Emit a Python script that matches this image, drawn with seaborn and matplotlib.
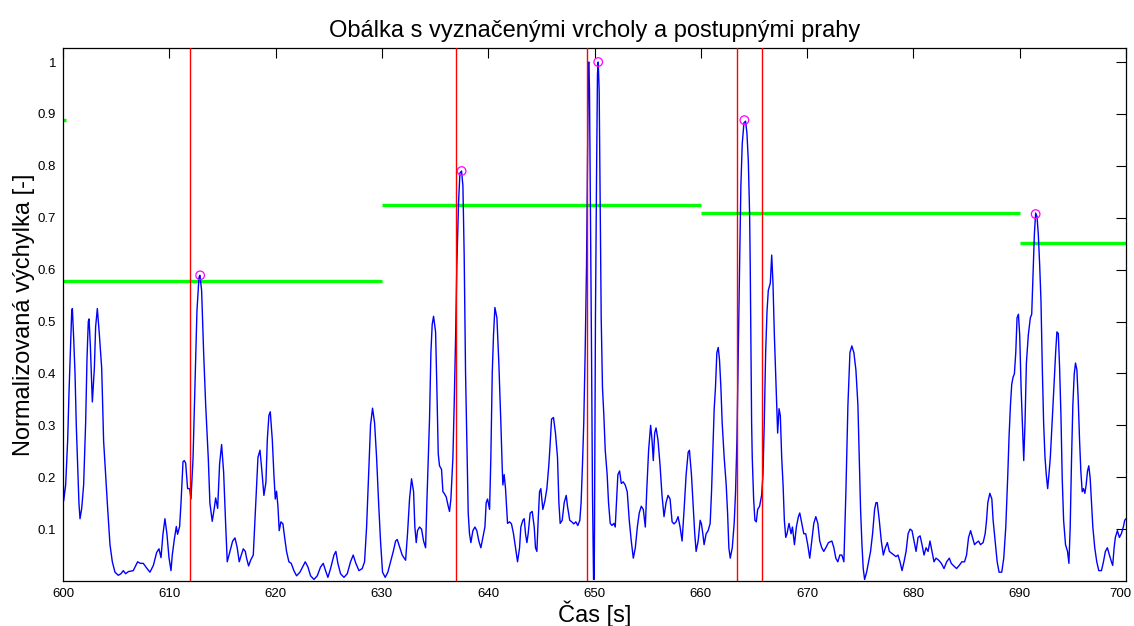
import matplotlib
matplotlib.use("Agg")
import matplotlib.pyplot as plt
import matplotlib.transforms as mtransforms
import numpy as np
import pandas as pd
import seaborn as sns

# ---------------- data ----------------
time_s = [
    600.00, 600.06, 600.25, 600.44, 600.56, 600.69, 600.82, 600.88, 601.00, 601.13,
    601.25, 601.38, 601.50, 601.60, 601.76, 601.94, 602.13, 602.26, 602.38, 602.45,
    602.57, 602.76, 602.95, 603.07, 603.23, 603.42, 603.64, 603.82, 604.01, 604.20,
    604.42, 604.64, 604.89, 605.20, 605.45, 605.67, 605.89, 606.14, 606.61, 607.02,
    607.27, 607.55, 607.87, 608.18, 608.50, 608.81, 609.03, 609.22, 609.40, 609.59,
    609.78, 609.97, 610.16, 610.28, 610.47, 610.66, 610.78, 610.97, 611.10, 611.29,
    611.41, 611.54, 611.72, 611.91, 612.04, 612.23, 612.41, 612.60, 612.79, 612.88,
    613.04, 613.23, 613.42, 613.67, 613.82, 614.04, 614.23, 614.36, 614.55, 614.73,
    614.92, 615.11, 615.30, 615.45, 615.71, 615.96, 616.18, 616.39, 616.58, 616.77,
    616.96, 617.15, 617.27, 617.46, 617.65, 617.90, 618.09, 618.21, 618.34, 618.53,
    618.71, 618.90, 619.09, 619.22, 619.37, 619.50, 619.69, 619.84, 619.97, 620.09,
    620.22, 620.34, 620.50, 620.69, 620.85, 621.03, 621.25, 621.47, 621.72, 621.97,
    622.29, 622.54, 622.79, 623.04, 623.29, 623.61, 623.92, 624.23, 624.48, 624.70,
    624.92, 625.17, 625.49, 625.67, 625.86, 626.11, 626.43, 626.74, 627.05, 627.30,
    627.55, 627.84, 628.15, 628.37, 628.56, 628.75, 628.93, 629.12, 629.31, 629.50,
    629.69, 629.87, 630.06, 630.31, 630.56, 630.82, 631.07, 631.29, 631.44, 631.69,
    631.91, 632.23, 632.41, 632.60, 632.79, 632.98, 633.10, 633.23, 633.35, 633.54,
    633.73, 633.92, 634.11, 634.23, 634.36, 634.48, 634.61, 634.73, 634.86, 635.05,
    635.17, 635.30, 635.42, 635.61, 635.74, 635.86, 636.05, 636.24, 636.36, 636.49,
    636.68, 636.80, 636.93, 637.05, 637.21, 637.34, 637.49, 637.62, 637.74, 637.87,
    637.99, 638.12, 638.24, 638.37, 638.56, 638.75, 638.93, 639.12, 639.31, 639.50,
    639.69, 639.81, 639.94, 640.13, 640.25, 640.38, 640.50, 640.63, 640.82, 641.00,
    641.19, 641.32, 641.38, 641.50, 641.63, 641.82, 642.01, 642.19, 642.38, 642.57,
    642.76, 642.95, 643.07, 643.26, 643.39, 643.51, 643.64, 643.76, 643.95, 644.14,
    644.33, 644.45, 644.58, 644.70, 644.83, 644.95, 645.14, 645.33, 645.52, 645.71,
    645.83, 645.96, 646.14, 646.33, 646.52, 646.65, 646.77, 646.96, 647.15, 647.34,
    647.46, 647.67, 647.86, 648.05, 648.24, 648.43, 648.62, 648.74, 648.87, 648.99,
    649.12, 649.25, 649.34, 649.43, 649.47, 649.53, 649.62, 649.72, 649.81, 649.91,
    649.97, 650.00, 650.09, 650.19, 650.28, 650.35, 650.44, 650.53, 650.63, 650.75,
    650.88, 651.01, 651.19, 651.32, 651.48, 651.64, 651.82, 651.95, 652.08, 652.20,
    652.36, 652.52, 652.70, 652.89, 653.08, 653.27, 653.46, 653.65, 653.84, 654.03,
    654.21, 654.40, 654.59, 654.78, 654.91, 655.09, 655.28, 655.41, 655.53, 655.66,
    655.79, 655.97, 656.16, 656.35, 656.54, 656.73, 656.92, 657.11, 657.30, 657.48,
    657.67, 657.86, 658.05, 658.24, 658.43, 658.62, 658.81, 658.93, 659.12, 659.25,
    659.43, 659.56, 659.75, 659.94, 660.06, 660.19, 660.31, 660.50, 660.69, 660.88,
    661.01, 661.13, 661.26, 661.38, 661.51, 661.64, 661.76, 661.89, 662.01, 662.20,
    662.39, 662.52, 662.64, 662.77, 662.96, 663.14, 663.27, 663.40, 663.52, 663.65,
    663.77, 663.90, 664.06, 664.21, 664.34, 664.47, 664.59, 664.65, 664.72, 664.78,
    664.84, 664.97, 665.09, 665.22, 665.35, 665.53, 665.72, 665.85, 665.97, 666.10,
    666.23, 666.35, 666.54, 666.67, 666.79, 666.92, 667.04, 667.17, 667.23, 667.36,
    667.48, 667.61, 667.74, 667.86, 667.99, 668.11, 668.30, 668.49, 668.62, 668.81,
    668.99, 669.18, 669.31, 669.50, 669.69, 669.87, 670.06, 670.25, 670.44, 670.63,
    670.82, 671.01, 671.19, 671.38, 671.57, 671.76, 672.01, 672.33, 672.52, 672.70,
    672.89, 673.08, 673.27, 673.46, 673.65, 673.84, 674.03, 674.21, 674.40, 674.59,
    674.78, 674.91, 675.03, 675.16, 675.28, 675.41, 675.60, 675.79, 675.97, 676.16,
    676.35, 676.48, 676.60, 676.79, 676.98, 677.17, 677.36, 677.55, 677.74, 677.92,
    678.18, 678.36, 678.55, 678.74, 678.93, 679.12, 679.31, 679.50, 679.69, 679.87,
    680.06, 680.25, 680.44, 680.63, 680.81, 681.00, 681.19, 681.38, 681.56, 681.75,
    681.94, 682.13, 682.38, 682.63, 682.88, 683.13, 683.38, 683.56, 683.75, 684.06,
    684.31, 684.56, 684.81, 685.00, 685.19, 685.38, 685.56, 685.75, 685.94, 686.13,
    686.31, 686.56, 686.75, 686.88, 687.00, 687.19, 687.38, 687.50, 687.69, 687.88,
    688.06, 688.31, 688.50, 688.69, 688.88, 689.00, 689.13, 689.25, 689.38, 689.50,
    689.63, 689.75, 689.88, 690.00, 690.13, 690.25, 690.38, 690.50, 690.63, 690.81,
    691.00, 691.13, 691.25, 691.38, 691.50, 691.63, 691.75, 691.88, 692.00, 692.13,
    692.25, 692.38, 692.50, 692.63, 692.75, 692.88, 693.00, 693.13, 693.25, 693.38,
    693.50, 693.63, 693.75, 693.88, 694.00, 694.13, 694.31, 694.50, 694.63, 694.75,
    694.88, 695.00, 695.13, 695.25, 695.38, 695.50, 695.63, 695.75, 695.88, 696.00,
    696.13, 696.25, 696.38, 696.50, 696.63, 696.75, 696.88, 697.06, 697.25, 697.44,
    697.69, 697.88, 698.06, 698.25, 698.44, 698.63, 698.75, 698.88, 699.00, 699.19,
    699.38, 699.56, 699.75, 699.88, 700.00,
]
envelope = [
    0.225, 0.154, 0.185, 0.272, 0.360, 0.440, 0.520, 0.525, 0.470, 0.400,
    0.300, 0.225, 0.150, 0.120, 0.140, 0.185, 0.305, 0.430, 0.500, 0.505,
    0.455, 0.345, 0.410, 0.490, 0.525, 0.475, 0.410, 0.270, 0.205, 0.140,
    0.070, 0.037, 0.017, 0.011, 0.014, 0.020, 0.014, 0.018, 0.020, 0.037,
    0.034, 0.034, 0.025, 0.017, 0.030, 0.055, 0.062, 0.045, 0.090, 0.120,
    0.090, 0.045, 0.020, 0.050, 0.080, 0.105, 0.090, 0.105, 0.150, 0.230,
    0.232, 0.227, 0.178, 0.178, 0.158, 0.235, 0.370, 0.520, 0.585, 0.589,
    0.560, 0.440, 0.340, 0.235, 0.150, 0.115, 0.140, 0.160, 0.140, 0.225,
    0.263, 0.210, 0.110, 0.037, 0.057, 0.077, 0.083, 0.064, 0.037, 0.050,
    0.062, 0.057, 0.044, 0.029, 0.040, 0.050, 0.131, 0.185, 0.238, 0.252,
    0.212, 0.165, 0.190, 0.272, 0.319, 0.326, 0.272, 0.205, 0.158, 0.173,
    0.144, 0.097, 0.114, 0.110, 0.084, 0.057, 0.037, 0.034, 0.020, 0.010,
    0.017, 0.027, 0.037, 0.027, 0.010, 0.003, 0.010, 0.027, 0.034, 0.020,
    0.007, 0.024, 0.050, 0.057, 0.034, 0.014, 0.007, 0.014, 0.037, 0.050,
    0.034, 0.020, 0.024, 0.037, 0.104, 0.205, 0.300, 0.333, 0.305, 0.238,
    0.151, 0.077, 0.017, 0.007, 0.017, 0.037, 0.057, 0.077, 0.080, 0.064,
    0.050, 0.040, 0.091, 0.158, 0.197, 0.172, 0.104, 0.074, 0.097, 0.104,
    0.100, 0.077, 0.064, 0.151, 0.232, 0.312, 0.440, 0.494, 0.510, 0.480,
    0.373, 0.245, 0.222, 0.215, 0.172, 0.169, 0.162, 0.144, 0.134, 0.158,
    0.238, 0.339, 0.466, 0.608, 0.729, 0.786, 0.790, 0.762, 0.628, 0.400,
    0.272, 0.131, 0.091, 0.074, 0.097, 0.104, 0.097, 0.077, 0.064, 0.084,
    0.104, 0.151, 0.158, 0.138, 0.238, 0.400, 0.474, 0.527, 0.507, 0.420,
    0.305, 0.218, 0.185, 0.205, 0.178, 0.111, 0.114, 0.110, 0.091, 0.064,
    0.037, 0.064, 0.104, 0.117, 0.120, 0.091, 0.074, 0.091, 0.131, 0.134,
    0.104, 0.064, 0.057, 0.117, 0.172, 0.178, 0.138, 0.154, 0.178, 0.225,
    0.265, 0.312, 0.315, 0.285, 0.238, 0.151, 0.111, 0.117, 0.151, 0.165,
    0.144, 0.117, 0.114, 0.110, 0.114, 0.107, 0.117, 0.151, 0.225, 0.305,
    0.440, 0.608, 0.810, 0.997, 1.000, 0.944, 0.709, 0.440, 0.171, 0.003,
    0.003, 0.104, 0.507, 0.776, 0.977, 1.000, 0.944, 0.742, 0.507, 0.373,
    0.319, 0.252, 0.205, 0.151, 0.111, 0.107, 0.111, 0.104, 0.158, 0.205,
    0.212, 0.188, 0.191, 0.185, 0.172, 0.117, 0.077, 0.044, 0.064, 0.104,
    0.131, 0.144, 0.138, 0.104, 0.172, 0.252, 0.300, 0.272, 0.232, 0.285,
    0.295, 0.272, 0.225, 0.165, 0.124, 0.151, 0.165, 0.158, 0.114, 0.110,
    0.114, 0.124, 0.104, 0.077, 0.138, 0.205, 0.248, 0.252, 0.205, 0.158,
    0.091, 0.057, 0.077, 0.117, 0.110, 0.091, 0.070, 0.091, 0.097, 0.111,
    0.172, 0.252, 0.332, 0.373, 0.440, 0.450, 0.426, 0.373, 0.305, 0.238,
    0.185, 0.131, 0.064, 0.044, 0.064, 0.111, 0.172, 0.272, 0.440, 0.608,
    0.762, 0.843, 0.883, 0.886, 0.863, 0.809, 0.709, 0.608, 0.440, 0.305,
    0.238, 0.158, 0.117, 0.114, 0.138, 0.144, 0.165, 0.205, 0.305, 0.440,
    0.520, 0.560, 0.574, 0.628, 0.574, 0.474, 0.400, 0.319, 0.285, 0.332,
    0.319, 0.238, 0.185, 0.117, 0.084, 0.091, 0.111, 0.091, 0.104, 0.070,
    0.104, 0.124, 0.131, 0.111, 0.091, 0.091, 0.070, 0.044, 0.077, 0.111,
    0.124, 0.111, 0.077, 0.064, 0.057, 0.064, 0.074, 0.077, 0.064, 0.044,
    0.037, 0.050, 0.050, 0.037, 0.172, 0.339, 0.440, 0.453, 0.440, 0.407,
    0.339, 0.238, 0.138, 0.070, 0.024, 0.003, 0.017, 0.037, 0.057, 0.091,
    0.138, 0.151, 0.151, 0.117, 0.077, 0.050, 0.064, 0.074, 0.057, 0.054,
    0.050, 0.047, 0.050, 0.037, 0.020, 0.037, 0.057, 0.091, 0.100, 0.097,
    0.077, 0.057, 0.084, 0.087, 0.070, 0.050, 0.064, 0.057, 0.077, 0.057,
    0.037, 0.044, 0.040, 0.034, 0.024, 0.037, 0.044, 0.034, 0.030, 0.024,
    0.030, 0.037, 0.037, 0.050, 0.084, 0.097, 0.084, 0.070, 0.074, 0.077,
    0.070, 0.074, 0.091, 0.117, 0.151, 0.169, 0.158, 0.117, 0.077, 0.037,
    0.017, 0.017, 0.044, 0.104, 0.205, 0.279, 0.339, 0.379, 0.393, 0.399,
    0.440, 0.507, 0.514, 0.474, 0.373, 0.305, 0.232, 0.305, 0.420, 0.474,
    0.507, 0.514, 0.588, 0.668, 0.709, 0.702, 0.668, 0.608, 0.541, 0.407,
    0.305, 0.238, 0.205, 0.178, 0.205, 0.238, 0.285, 0.339, 0.386, 0.440,
    0.480, 0.477, 0.413, 0.319, 0.198, 0.117, 0.070, 0.057, 0.034, 0.104,
    0.238, 0.339, 0.399, 0.420, 0.407, 0.352, 0.272, 0.212, 0.172, 0.178,
    0.169, 0.185, 0.212, 0.222, 0.198, 0.151, 0.104, 0.064, 0.037, 0.020,
    0.020, 0.037, 0.057, 0.064, 0.050, 0.037, 0.030, 0.064, 0.084, 0.097,
    0.084, 0.091, 0.104, 0.117, 0.120,
]

peak_times = [612.9, 637.5, 650.35, 664.1, 691.5]
peak_values = [0.589, 0.790, 1.000, 0.888, 0.707]

onset_times = [611.95, 637.0, 649.3, 663.4, 665.75]

threshold_start = [590.0, 600.0, 630.0, 660.0, 690.0]
threshold_end = [600.3, 630.0, 660.0, 690.0, 700.0]
threshold_value = [0.888, 0.578, 0.724, 0.709, 0.651]

x_ticks = [600, 610, 620, 630, 640, 650, 660, 670, 680, 690, 700]
y_ticks = [0.1, 0.2, 0.3, 0.4, 0.5, 0.6, 0.7, 0.8, 0.9, 1.0]
y_tick_labels = ["0.1", "0.2", "0.3", "0.4", "0.5", "0.6", "0.7", "0.8", "0.9", "1"]

title_text = "Obálka s vyznačenými vrcholy a postupnými prahy"
x_label = "Čas [s]"
y_label = "Normalizovaná výchylka [-]"

# ---------------- plotting ----------------
sns.set_theme(style="white")
plt.rcParams["font.family"] = ["Liberation Sans", "DejaVu Sans"]

fig = plt.figure(figsize=(11.34, 6.26), dpi=100)
ax = fig.add_axes([63 / 1134, 45 / 626, 1063 / 1134, 533 / 626])

df = pd.DataFrame({"t": time_s, "v": envelope})

ax.hlines(threshold_value, threshold_start, threshold_end,
          colors="#00ff00", linewidth=2.4, zorder=1.5)
sns.lineplot(data=df, x="t", y="v", ax=ax, color="#0000ff", linewidth=1.0,
             estimator=None, sort=False, zorder=2)
for xv in onset_times:
    ax.axvline(xv, color="#ff0000", linewidth=1.0, zorder=3)
sns.scatterplot(x=peak_times, y=peak_values, ax=ax, marker="o", s=38,
                facecolor="none", edgecolor="#ff00ff", linewidth=0.9, zorder=4)

ax.set_xlim(600, 700)
ax.set_ylim(0.0, 1.027)
ax.set_xticks(x_ticks)
ax.set_xticklabels([str(v) for v in x_ticks])
ax.set_yticks(y_ticks)
ax.set_yticklabels(y_tick_labels)

ax.tick_params(direction="in", length=7.5, width=0.8, top=True, right=True,
               labelsize=9.5, colors="black", pad=5)
for sp in ax.spines.values():
    sp.set_color("black")
    sp.set_linewidth(0.9)

# keep the last x tick label inside the figure
last_lbl = ax.get_xticklabels()[-1]
last_lbl.set_transform(last_lbl.get_transform() +
                       mtransforms.ScaledTranslation(-6 / 100, 0, fig.dpi_scale_trans))

ax.set_title(title_text, fontsize=17, pad=8, color="black")
ax.set_xlabel(x_label, fontsize=17, labelpad=0.5, color="black")
ax.set_ylabel(y_label, fontsize=17, labelpad=1.5, color="black")
ax.grid(False)

fig.savefig("out.png", dpi=100, facecolor="white")
